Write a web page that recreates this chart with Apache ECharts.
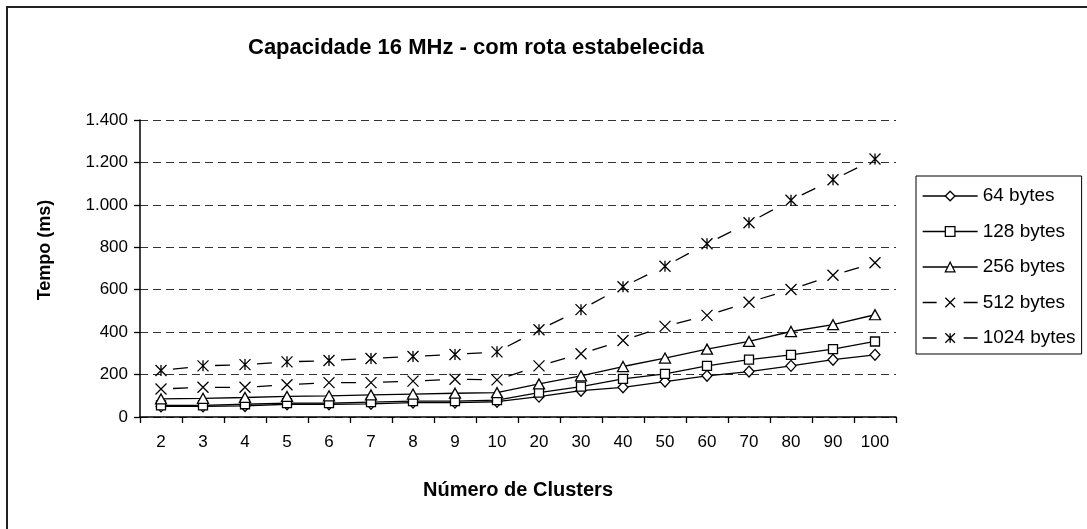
<!DOCTYPE html>
<html>
<head>
<meta charset="utf-8">
<script src="https://cdn.jsdelivr.net/npm/echarts@6/dist/echarts.min.js"></script>
<style>
  html, body { margin: 0; padding: 0; background: #fff; }
  #chart { width: 1087px; height: 529px; }
</style>
</head>
<body>
<div id="chart"></div>
<script>
// Number of clusters (category axis)
const clusters = ['2', '3', '4', '5', '6', '7', '8', '9', '10', '20', '30', '40', '50', '60', '70', '80', '90', '100'];

// Response time in ms for each packet size
const bytes64   = [50, 50, 52, 60, 60, 62, 68, 68, 72, 96, 124, 140, 167, 194, 214, 241, 270, 293];
const bytes128  = [55, 55, 60, 65, 65, 70, 75, 75, 80, 115, 143, 180, 203, 241, 270, 293, 320, 356];
const bytes256  = [85, 88, 92, 97, 100, 104, 108, 112, 115, 156, 194, 238, 278, 320, 356, 403, 435, 482];
const bytes512  = [132, 140, 140, 152, 162, 162, 169, 178, 175, 241, 298, 361, 427, 479, 541, 601, 668, 727];
const bytes1024 = [219, 241, 247, 260, 266, 276, 285, 295, 307, 411, 506, 614, 711, 817, 916, 1022, 1118, 1216];

const seriesNames = ['64 bytes', '128 bytes', '256 bytes', '512 bytes', '1024 bytes'];

// Y axis ticks
const yMin = 0, yMax = 1400, yStep = 200;

const FONT = "'Liberation Sans', Arial, sans-serif";
const CROSS = 'path://M0,0L10,10M10,0L0,10';
const STAR = 'path://M0,0L10,10M10,0L0,10M5,0L5,10';

const defs = [
  { name: seriesNames[0], data: bytes64,   symbol: 'diamond',  size: [10, 11], dashed: false, fill: '#fff' },
  { name: seriesNames[1], data: bytes128,  symbol: 'rect',     size: [9, 9],   dashed: false, fill: '#fff' },
  { name: seriesNames[2], data: bytes256,  symbol: 'triangle', size: [11, 10], dashed: false, fill: '#fff' },
  { name: seriesNames[3], data: bytes512,  symbol: CROSS,      size: [11, 11], dashed: true,  fill: '#000' },
  { name: seriesNames[4], data: bytes1024, symbol: STAR,       size: [11, 11], dashed: true,  fill: '#000' }
];

// Marker series (and the solid lines). They come first so the legend
// picks them up for each name; z keeps them above the dashed segments.
const series = defs.map(function (d) {
  return {
    type: 'line',
    name: d.name,
    data: d.data,
    symbol: d.symbol,
    symbolSize: d.size,
    showAllSymbol: true,
    animation: false,
    z: 3,
    lineStyle: d.dashed ? { color: '#000', width: 1.3, opacity: 0 } : { color: '#000', width: 1.3 },
    itemStyle: { color: d.fill, borderColor: '#000', borderWidth: 1.3, opacity: 1 }
  };
});

// Dashed lines are drawn one segment at a time so that every gap between
// two markers carries a single dash.
defs.forEach(function (d) {
  if (!d.dashed) return;
  for (let i = 0; i < d.data.length - 1; i++) {
    series.push({
      type: 'line',
      name: d.name,
      data: d.data.map(function (v, j) { return (j === i || j === i + 1) ? v : null; }),
      symbol: 'none',
      silent: true,
      animation: false,
      z: 2,
      lineStyle: { color: '#000', width: 1.3, type: [0, 12, 15, 1000] }
    });
  }
});

function fmtThousands(v) {
  if (v >= 1000) {
    return Math.floor(v / 1000) + '.' + String(v % 1000).padStart(3, '0');
  }
  return String(v);
}

const chart = echarts.init(document.getElementById('chart'), null, { renderer: 'canvas' });
chart.setOption({
  backgroundColor: '#fff',
  animation: false,
  textStyle: { fontFamily: FONT, color: '#000' },
  title: {
    text: 'Capacidade 16 MHz - com rota estabelecida',
    left: 243,
    top: 32,
    textStyle: { fontFamily: FONT, fontSize: 22, fontWeight: 'bold', color: '#000' }
  },
  graphic: [{
    type: 'rect',
    shape: { x: 7, y: 7, width: 1100, height: 560 },
    style: { fill: 'none', stroke: '#222', lineWidth: 2 },
    silent: true,
    z: 0
  }, {
    type: 'text',
    x: 45,
    y: 250,
    rotation: Math.PI / 2,
    style: {
      text: 'Tempo (ms)',
      fontFamily: FONT, fontSize: 18, fontWeight: 'bold', fill: '#000',
      align: 'center', verticalAlign: 'middle'
    },
    silent: true
  }],
  legend: {
    orient: 'vertical',
    left: 916,
    top: 176,
    itemWidth: 55,
    itemHeight: 12,
    itemGap: 13.5,
    padding: [9, 6, 5, 6],
    borderColor: '#000',
    borderWidth: 1,
    textStyle: { fontFamily: FONT, fontSize: 19, color: '#000', lineHeight: 22 },
    itemStyle: { borderWidth: 1.3 },
    lineStyle: { width: 1.3 },
    data: seriesNames.map(function (n, i) {
      return defs[i].dashed
        ? { name: n, lineStyle: { opacity: 1, type: [14, 27], width: 1.3, color: '#000' } }
        : { name: n };
    })
  },
  grid: { left: 140, right: 191, top: 120, bottom: 112, containLabel: false },
  xAxis: {
    type: 'category',
    data: clusters,
    boundaryGap: true,
    name: 'Número de Clusters',
    nameLocation: 'middle',
    nameGap: 63,
    nameTextStyle: { fontFamily: FONT, fontSize: 20, fontWeight: 'bold', color: '#000' },
    axisLine: { lineStyle: { color: '#000', width: 1.5 } },
    axisTick: { show: true, length: 6, lineStyle: { color: '#000', width: 1.3 } },
    axisLabel: { fontFamily: FONT, fontSize: 17, color: '#000', margin: 17, interval: 0 },
    splitLine: { show: false }
  },
  yAxis: {
    type: 'value',
    min: yMin,
    max: yMax,
    interval: yStep,
    axisLine: { show: true, lineStyle: { color: '#000', width: 1.5 } },
    axisTick: { show: true, length: 6, lineStyle: { color: '#000', width: 1.3 } },
    axisLabel: { fontFamily: FONT, fontSize: 17, color: '#000', margin: 12, formatter: fmtThousands },
    splitLine: { show: true, lineStyle: { color: '#333', width: 1, type: [8, 5] } }
  },
  series: series
});
</script>
</body>
</html>
